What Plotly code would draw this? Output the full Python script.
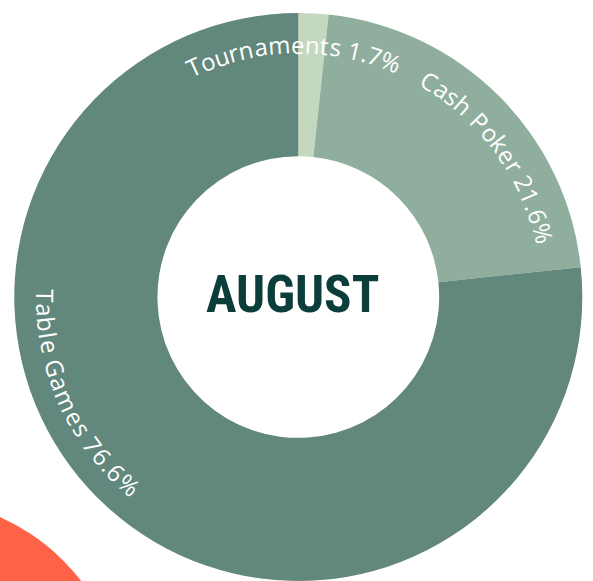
import math
import plotly.graph_objects as go

# ---- data ----
labels = ["Tournaments", "Cash Poker", "Table Games"]
shares = [1.7, 21.6, 76.6]
slice_colors = ["#c4d8bf", "#8fae9e", "#62877c"]
month = "AUGUST"

# ---- geometry / style ----
W, H = 593, 581
CX, CY, R = 298.3, 297.0, 284.0
HOLE = 0.496
# where each curved label is centred (deg clockwise from 12 o'clock) and whether it's flipped
label_mid = [-1.1, 53.6, 245.8]
label_flip = [False, False, True]
label_track = [1.02, 1.05, 1.08]
LABEL_R = 253
LABEL_SIZE = 24

# rough Open Sans advance widths in em
ADV = {
    "T": .556, "o": .602, "u": .617, "r": .408, "n": .617, "a": .561, "m": .94,
    "e": .561, "t": .353, "s": .479, " ": .26, ".": .268, "%": .823, "C": .632,
    "h": .617, "P": .603, "k": .527, "b": .613, "l": .258, "G": .694,
}
for d in "0123456789":
    ADV[d] = .572


def px_to_paper(x, y):
    return x / W, 1 - y / H


def arc_text(text, mid, flip, track):
    advs = [ADV.get(c, .56) * LABEL_SIZE * track for c in text]
    # arc lengths measured along the baseline
    rb = LABEL_R + 6 if flip else LABEL_R - 6
    s = -sum(advs) / 2
    out = []
    for ch, a in zip(text, advs):
        pos = s + a / 2
        s += a
        if ch == " ":
            continue
        d = math.degrees(pos / rb)
        theta = mid - d if flip else mid + d
        t = math.radians(theta)
        x, y = px_to_paper(CX + LABEL_R * math.sin(t), CY - LABEL_R * math.cos(t))
        rot = theta - 180 if flip else theta
        rot = (rot + 180) % 360 - 180
        out.append(dict(
            text=ch, x=x, y=y, xref="paper", yref="paper", showarrow=False,
            xanchor="center", yanchor="middle", textangle=rot,
            font=dict(family="Open Sans", size=LABEL_SIZE, color="white"),
        ))
    return out


x0, y1 = px_to_paper(CX - R, CY - R)
x1, y0 = px_to_paper(CX + R, CY + R)

fig = go.Figure()
fig.add_trace(go.Pie(
    labels=labels,
    values=shares,
    hole=HOLE,
    sort=False,
    direction="clockwise",
    rotation=0,
    textinfo="none",
    hoverinfo="label+percent",
    marker=dict(colors=slice_colors, line=dict(width=0)),
    domain=dict(x=[x0, x1], y=[max(y0, 0), y1]),
    showlegend=False,
))

annotations = []
for lab, val, mid, flip, tr in zip(labels, shares, label_mid, label_flip, label_track):
    annotations += arc_text(f"{lab} {val}%", mid, flip, tr)

mx, my = px_to_paper(292.5, 294.5)
annotations.append(dict(
    text=month, x=mx, y=my, xref="paper", yref="paper", showarrow=False,
    xanchor="center", yanchor="middle",
    font=dict(family="Liberation Sans Narrow, Roboto Condensed, Roboto", size=51,
              color="#0b3d3a", weight="bold"),
))

# orange blob peeking in from the bottom-left corner
bx0, by1 = px_to_paper(-88 - 214, 712 - 214)
bx1, by0 = px_to_paper(-88 + 214, 712 + 214)

fig.update_layout(
    width=W,
    height=H,
    margin=dict(l=0, r=0, t=0, b=0),
    paper_bgcolor="white",
    plot_bgcolor="white",
    annotations=annotations,
    shapes=[dict(type="circle", xref="paper", yref="paper",
                 x0=bx0, x1=bx1, y0=by0, y1=by1,
                 fillcolor="#ff6347", line=dict(width=0), layer="below")],
)

# drop the browser's default 8px body margin so the figure sits at the corner
fig.write_html("out.html", config={"displayModeBar": False},
               post_script="document.body.style.margin = '0';")
